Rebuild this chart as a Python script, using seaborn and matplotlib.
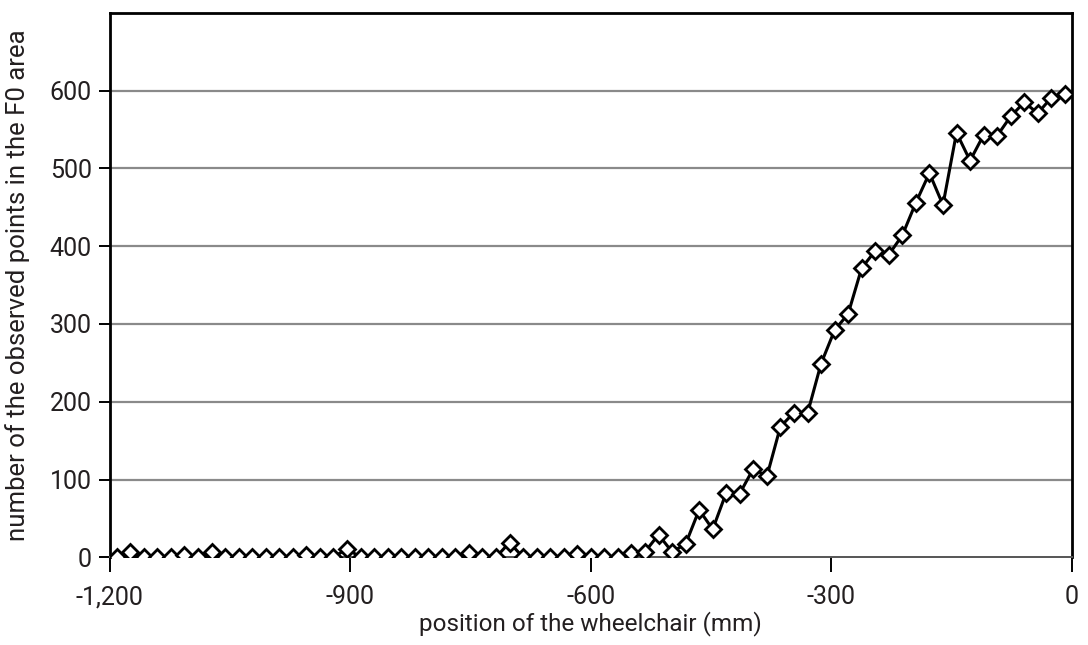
import matplotlib
matplotlib.use("Agg")
import matplotlib.pyplot as plt
import seaborn as sns
import pandas as pd
from matplotlib.ticker import FuncFormatter

# bin centres of the wheelchair position (mm), 71 bins over -1200..0
position_mm = [
    -1191.5, -1174.6, -1157.7, -1140.8, -1123.9, -1107.0, -1090.1, -1073.2,
    -1056.3, -1039.4, -1022.5, -1005.6, -988.7, -971.8, -954.9, -938.0,
    -921.1, -904.2, -887.3, -870.4, -853.5, -836.6, -819.7, -802.8,
    -785.9, -769.0, -752.1, -735.2, -718.3, -701.4, -684.5, -667.6,
    -650.7, -633.8, -616.9, -600.0, -583.1, -566.2, -549.3, -532.4,
    -515.5, -498.6, -481.7, -464.8, -447.9, -431.0, -414.1, -397.2,
    -380.3, -363.4, -346.5, -329.6, -312.7, -295.8, -278.9, -262.0,
    -245.1, -228.2, -211.3, -194.4, -177.5, -160.6, -143.7, -126.8,
    -109.9, -93.0, -76.1, -59.2, -42.3, -25.4, -8.5,
]

# number of observed points in the F0 area
observed_points = [
    0, 7, 0, 0, 0, 3, 0, 7, 0, 0, 0, 0, 0, 0, 3, 0,
    0, 11, 0, 0, 0, 0, 0, 0, 0, 0, 5, 0, 0, 19, 0, 0,
    0, 0, 4, 0, 0, 0, 5, 7, 29, 7, 17, 61, 36, 83,
    82, 114, 104, 168, 186, 185, 249, 292, 313, 372, 394, 389,
    414, 456, 494, 453, 546, 510, 543, 542, 567, 585, 571, 591, 596,
]

x_ticks = [-1200, -900, -600, -300, 0]
y_ticks = [0, 100, 200, 300, 400, 500, 600]

sns.set_theme(style="white")
plt.rcParams["font.family"] = ["Roboto", "DejaVu Sans"]

df = pd.DataFrame({"position": position_mm, "points": observed_points})

fig = plt.figure(figsize=(10.88, 6.45), dpi=100)
ax = fig.add_axes([0.101, 0.136, 0.884, 0.844])

# horizontal grid lines
for yv in y_ticks[1:]:
    ax.axhline(yv, color="#8a8a8a", linewidth=1.6, zorder=1)

sns.lineplot(
    data=df, x="position", y="points", ax=ax,
    color="black", linewidth=2.2, marker="D", markersize=8.5,
    markerfacecolor="white", markeredgecolor="black", markeredgewidth=2.0,
    zorder=3,
)

ax.set_xlim(-1200, 0)
ax.set_ylim(0, 700)
ax.set_xticks(x_ticks)
ax.set_yticks(y_ticks)
ax.xaxis.set_major_formatter(FuncFormatter(lambda v, p: f"{int(v):,}"))

text_color = "#231f20"
ax.tick_params(axis="x", direction="out", length=11, width=1.4, colors="black",
               labelcolor=text_color, labelsize=18, pad=9, bottom=True)
ax.tick_params(axis="y", direction="out", length=8, width=1.4, colors="black",
               labelcolor=text_color, labelsize=18, pad=5, left=True)

for side in ["top", "left", "right"]:
    ax.spines[side].set_color("black")
    ax.spines[side].set_linewidth(2.0)
ax.spines["bottom"].set_color("#555555")
ax.spines["bottom"].set_linewidth(1.4)

ax.set_xlabel("position of the wheelchair (mm)", fontsize=17.5, color=text_color)
ax.set_ylabel("number of the observed points in the F0 area", fontsize=18.5,
              color=text_color)
ax.xaxis.set_label_coords(0.5, -0.098)
ax.yaxis.set_label_coords(-0.083, 0.5)

fig.savefig("out.png", dpi=100)
